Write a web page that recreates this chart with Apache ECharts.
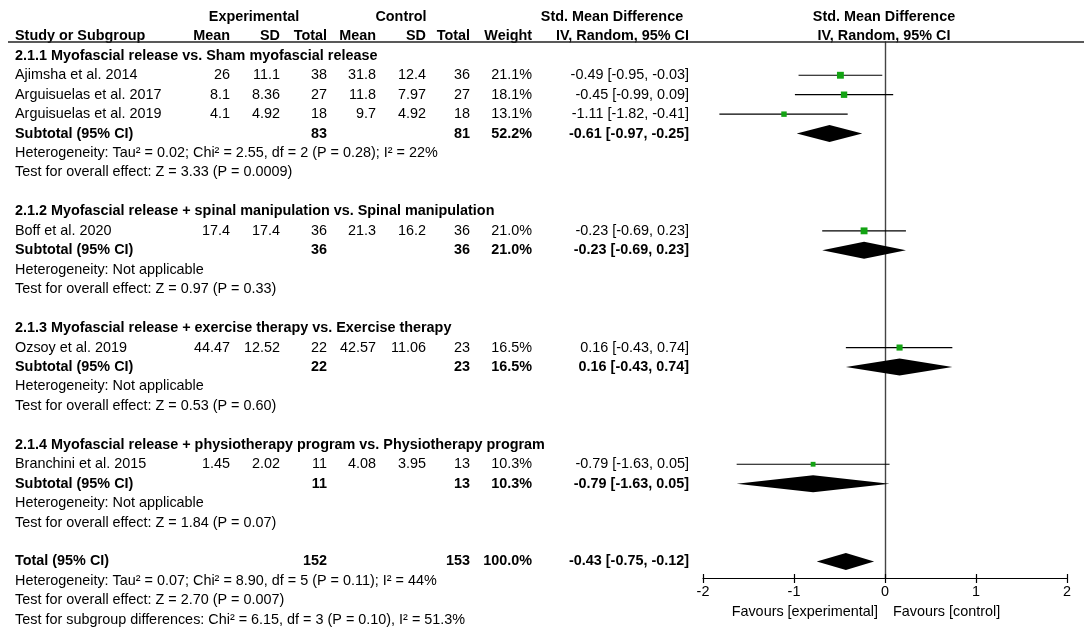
<!DOCTYPE html>
<html>
<head>
<meta charset="utf-8">
<script src="https://cdn.jsdelivr.net/npm/echarts@6/dist/echarts.min.js"></script>
<style>
html,body{margin:0;padding:0;background:#fff;}
#chart{width:1084px;height:630px;}
</style>
</head>
<body>
<div id="chart"></div>
<script>
// ---------- DATA ----------
const groupTitles = [
  '2.1.1 Myofascial release vs. Sham myofascial release',
  '2.1.2 Myofascial release + spinal manipulation vs. Spinal manipulation',
  '2.1.3 Myofascial release + exercise therapy vs. Exercise therapy',
  '2.1.4 Myofascial release + physiotherapy program vs. Physiotherapy program'
];
const studies = ['Ajimsha et al. 2014','Arguisuelas et al. 2017','Arguisuelas et al. 2019','Boff et al. 2020','Ozsoy et al. 2019','Branchini et al. 2015'];
const studyGroup = [0,0,0,1,2,3];
const expMean = ['26','8.1','4.1','17.4','44.47','1.45'];
const expSD = ['11.1','8.36','4.92','17.4','12.52','2.02'];
const expN = [38,27,18,36,22,11];
const ctrlMean = ['31.8','11.8','9.7','21.3','42.57','4.08'];
const ctrlSD = ['12.4','7.97','4.92','16.2','11.06','3.95'];
const ctrlN = [36,27,18,36,23,13];
const weight = [21.1,18.1,13.1,21.0,16.5,10.3];
const smd = [-0.49,-0.45,-1.11,-0.23,0.16,-0.79];
const ciLow = [-0.95,-0.99,-1.82,-0.69,-0.43,-1.63];
const ciHigh = [-0.03,0.09,-0.41,0.23,0.74,0.05];

const subExpN = [83,36,22,11];
const subCtrlN = [81,36,23,13];
const subWeight = [52.2,21.0,16.5,10.3];
const subSmd = [-0.61,-0.23,0.16,-0.79];
const subLow = [-0.97,-0.69,-0.43,-1.63];
const subHigh = [-0.25,0.23,0.74,0.05];
const subHet = [
  'Heterogeneity: Tau\u00b2 = 0.02; Chi\u00b2 = 2.55, df = 2 (P = 0.28); I\u00b2 = 22%',
  'Heterogeneity: Not applicable',
  'Heterogeneity: Not applicable',
  'Heterogeneity: Not applicable'
];
const subEffect = [
  'Test for overall effect: Z = 3.33 (P = 0.0009)',
  'Test for overall effect: Z = 0.97 (P = 0.33)',
  'Test for overall effect: Z = 0.53 (P = 0.60)',
  'Test for overall effect: Z = 1.84 (P = 0.07)'
];
const totalExpN = 152, totalCtrlN = 153, totalWeight = 100.0;
const totalSmd = -0.43, totalLow = -0.75, totalHigh = -0.12;
const totalLines = [
  'Heterogeneity: Tau\u00b2 = 0.07; Chi\u00b2 = 8.90, df = 5 (P = 0.11); I\u00b2 = 44%',
  'Test for overall effect: Z = 2.70 (P = 0.007)',
  'Test for subgroup differences: Chi\u00b2 = 6.15, df = 3 (P = 0.10), I\u00b2 = 51.3%'
];
const xTicks = [-2,-1,0,1,2];
const favourLeft = 'Favours [experimental]';
const favourRight = 'Favours [control]';

// ---------- LAYOUT ----------
const FONT = '"Liberation Sans", Arial, sans-serif';
const FS = 14.4;
const COL = {label:15, expMean:230, expSD:280, expN:327, ctrlMean:376, ctrlSD:426, ctrlN:470, weight:532, ci:689};
const fmt2 = v => v.toFixed(2);
const ciStr = (e,l,h) => fmt2(e) + ' [' + fmt2(l) + ', ' + fmt2(h) + ']';

const cells = [];   // text cells
const studyPts = []; // [smd,row,weight,low,high]
const diamonds = []; // [est,row,low,high]
function cell(row, x, text, align, bold){ cells.push({row, x, text, align: align || 'left', bold: !!bold}); }

// headers
cell(-2, 254, 'Experimental', 'center', true);
cell(-2, 401, 'Control', 'center', true);
cell(-2, 612, 'Std. Mean Difference', 'center', true);
cell(-2, 884, 'Std. Mean Difference', 'center', true);
cell(-1, COL.label, 'Study or Subgroup', 'left', true);
cell(-1, COL.expMean, 'Mean', 'right', true);
cell(-1, COL.expSD, 'SD', 'right', true);
cell(-1, COL.expN, 'Total', 'right', true);
cell(-1, COL.ctrlMean, 'Mean', 'right', true);
cell(-1, COL.ctrlSD, 'SD', 'right', true);
cell(-1, COL.ctrlN, 'Total', 'right', true);
cell(-1, COL.weight, 'Weight', 'right', true);
cell(-1, COL.ci, 'IV, Random, 95% CI', 'right', true);
cell(-1, 884, 'IV, Random, 95% CI', 'center', true);

let r = 0;
for (let g = 0; g < groupTitles.length; g++) {
  cell(r, COL.label, groupTitles[g], 'left', true); r++;
  for (let i = 0; i < studies.length; i++) {
    if (studyGroup[i] !== g) continue;
    cell(r, COL.label, studies[i]);
    cell(r, COL.expMean, expMean[i], 'right');
    cell(r, COL.expSD, expSD[i], 'right');
    cell(r, COL.expN, String(expN[i]), 'right');
    cell(r, COL.ctrlMean, ctrlMean[i], 'right');
    cell(r, COL.ctrlSD, ctrlSD[i], 'right');
    cell(r, COL.ctrlN, String(ctrlN[i]), 'right');
    cell(r, COL.weight, weight[i].toFixed(1) + '%', 'right');
    cell(r, COL.ci, ciStr(smd[i], ciLow[i], ciHigh[i]), 'right');
    studyPts.push([smd[i], r, weight[i], ciLow[i], ciHigh[i]]);
    r++;
  }
  cell(r, COL.label, 'Subtotal (95% CI)', 'left', true);
  cell(r, COL.expN, String(subExpN[g]), 'right', true);
  cell(r, COL.ctrlN, String(subCtrlN[g]), 'right', true);
  cell(r, COL.weight, subWeight[g].toFixed(1) + '%', 'right', true);
  cell(r, COL.ci, ciStr(subSmd[g], subLow[g], subHigh[g]), 'right', true);
  diamonds.push([subSmd[g], r, subLow[g], subHigh[g]]);
  r++;
  cell(r, COL.label, subHet[g]); r++;
  cell(r, COL.label, subEffect[g]); r++;
  r++;
}
cell(r, COL.label, 'Total (95% CI)', 'left', true);
cell(r, COL.expN, String(totalExpN), 'right', true);
cell(r, COL.ctrlN, String(totalCtrlN), 'right', true);
cell(r, COL.weight, totalWeight.toFixed(1) + '%', 'right', true);
cell(r, COL.ci, ciStr(totalSmd, totalLow, totalHigh), 'right', true);
diamonds.push([totalSmd, r, totalLow, totalHigh]);
r++;
totalLines.forEach(t => { cell(r, COL.label, t); r++; });

// row r -> pixel y: 55.8 + 19.45*r ; grid top 42, bottom at 578
const ROW0 = 55.8, ROWH = 19.45, TOP = 42, AXISY = 578;
const yMin = (TOP - ROW0) / ROWH;
const yMax = (AXISY - ROW0) / ROWH;

const chart = echarts.init(document.getElementById('chart'), null, {renderer: 'canvas'});
const option = {
  animation: false,
  backgroundColor: '#fff',
  grid: {left: 703, right: 17, top: TOP, bottom: 630 - AXISY, containLabel: false},
  xAxis: [
    {type: 'value', position: 'bottom', min: -2, max: 2, interval: 1,
     axisLine: {show: true, onZero: false, lineStyle: {color: '#000', width: 1.2}},
     axisTick: {show: true, length: 5, lineStyle: {color: '#000', width: 1.2}},
     axisLabel: {show: true, margin: 7, color: '#000', fontSize: FS, fontFamily: FONT,
                 formatter: v => xTicks.indexOf(v) >= 0 ? String(v) : ''},
     splitLine: {show: false}},
    {type: 'value', position: 'bottom', min: -2, max: 2, interval: 1,
     axisLine: {show: false, onZero: false},
     axisTick: {show: true, inside: true, length: 4, lineStyle: {color: '#000', width: 1.2}},
     axisLabel: {show: false}, splitLine: {show: false}}
  ],
  yAxis: {type: 'value', inverse: true, min: yMin, max: yMax,
    axisLine: {show: true, onZero: true, lineStyle: {color: '#444', width: 1.4}},
    axisTick: {show: false}, axisLabel: {show: false}, splitLine: {show: false}},
  graphic: [
    {type: 'line', shape: {x1: 8, y1: 42, x2: 1084, y2: 42}, style: {stroke: '#222', lineWidth: 1.5}, z: 10},
    {type: 'text', x: 878, y: 612, style: {text: favourLeft, align: 'right', verticalAlign: 'middle', font: FS + 'px ' + FONT, fill: '#000'}},
    {type: 'text', x: 893, y: 612, style: {text: favourRight, align: 'left', verticalAlign: 'middle', font: FS + 'px ' + FONT, fill: '#000'}}
  ],
  series: [
    { // CI whiskers
      type: 'custom', name: 'ci', xAxisIndex: 0, clip: false,
      data: studyPts, encode: {x: 0, y: 1},
      renderItem: function (params, api) {
        const a = api.coord([api.value(3), api.value(1)]);
        const b = api.coord([api.value(4), api.value(1)]);
        return {type: 'line', shape: {x1: a[0], y1: a[1], x2: b[0], y2: b[1]},
                style: {stroke: '#000', lineWidth: 1.2}};
      }, z: 2
    },
    { // study squares
      type: 'scatter', name: 'study', xAxisIndex: 0,
      data: studyPts, encode: {x: 0, y: 1},
      symbol: 'rect',
      symbolSize: v => 1.5 * Math.sqrt(v[2]),
      itemStyle: {color: '#13a313', opacity: 1}, z: 3
    },
    { // diamonds
      type: 'custom', name: 'pooled', xAxisIndex: 0, clip: false,
      data: diamonds, encode: {x: 0, y: 1},
      renderItem: function (params, api) {
        const c = api.coord([api.value(0), api.value(1)]);
        const l = api.coord([api.value(2), api.value(1)]);
        const h = api.coord([api.value(3), api.value(1)]);
        const hh = 8.5;
        return {type: 'polygon', shape: {points: [[l[0], c[1]], [c[0], c[1] - hh], [h[0], c[1]], [c[0], c[1] + hh]]},
                style: {fill: '#000'}};
      }, z: 4
    },
    { // table text
      type: 'custom', name: 'table', xAxisIndex: 0, clip: false, silent: true,
      data: cells.map((c, i) => [0, c.row, i]), encode: {x: 0, y: 1},
      renderItem: function (params, api) {
        const c = cells[api.value(2)];
        const y = api.coord([0, c.row])[1];
        return {type: 'text', x: c.x, y: y,
                style: {text: c.text, align: c.align, verticalAlign: 'middle',
                        font: (c.bold ? 'bold ' : '') + FS + 'px ' + FONT, fill: '#000'}};
      }, z: 5
    }
  ]
};
chart.setOption(option);
</script>
</body>
</html>
